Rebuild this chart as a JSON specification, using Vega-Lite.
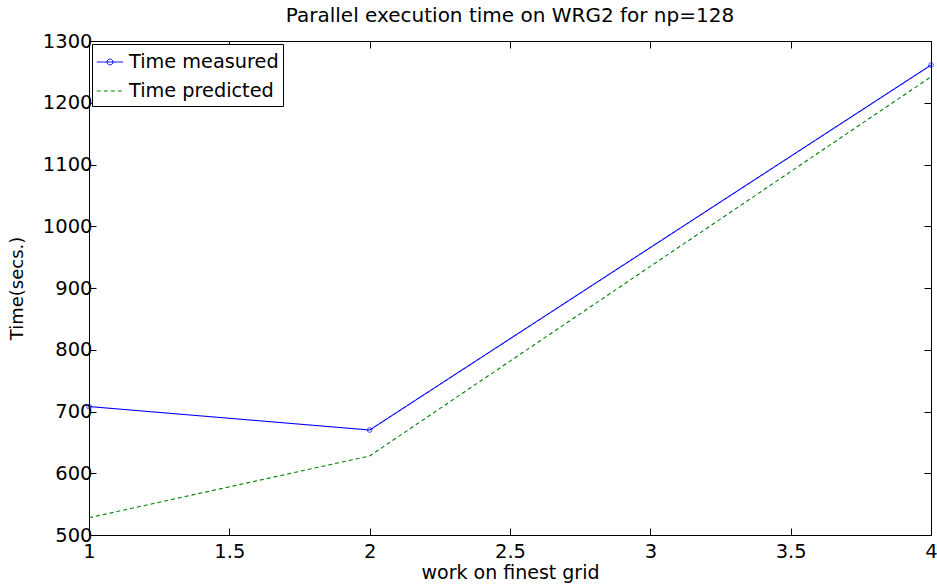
{
  "$schema": "https://vega.github.io/schema/vega-lite/v6.json",
  "width": 842,
  "height": 494,
  "autosize": {"type": "none"},
  "padding": {"left": 89, "top": 41, "right": 6, "bottom": 52},
  "background": "white",
  "title": {"text": "Parallel execution time on WRG2 for np=128", "font": "DejaVu Sans", "fontSize": 20, "fontWeight": "normal", "color": "black", "offset": 5},
  "config": {
    "view": {"stroke": "black", "strokeWidth": 1},
    "axis": {"labelFont": "DejaVu Sans", "titleFont": "DejaVu Sans", "labelFontSize": 19.5, "titleFontSize": 19, "titleFontWeight": "normal", "labelColor": "black", "titleColor": "black", "domainColor": "black", "tickColor": "black", "grid": false, "tickSize": -7, "domainWidth": 1}
  },
  "data": {"values": [
    {"x": 1, "t": 708, "series": "Time measured"},
    {"x": 2, "t": 670, "series": "Time measured"},
    {"x": 4, "t": 1261, "series": "Time measured"},
    {"x": 1, "t": 528, "series": "Time predicted"},
    {"x": 2, "t": 628, "series": "Time predicted"},
    {"x": 4, "t": 1242, "series": "Time predicted"}
  ]},
  "layer": [
    {
      "mark": {"type": "line", "strokeWidth": 1.1, "clip": true},
      "encoding": {
        "x": {"field": "x", "type": "quantitative", "scale": {"domain": [1, 4], "nice": false, "zero": false}, "axis": {"title": "work on finest grid", "format": "~g", "values": [1, 1.5, 2, 2.5, 3, 3.5, 4], "labelPadding": 14, "titlePadding": 3, "labelOverlap": false, "labelFlush": false}},
        "y": {"field": "t", "type": "quantitative", "scale": {"domain": [500, 1300], "nice": false, "zero": false}, "axis": {"title": "Time(secs.)", "titleFontSize": 18, "format": "d", "values": [500, 600, 700, 800, 900, 1000, 1100, 1200, 1300], "labelPadding": 4, "titlePadding": 16, "labelOverlap": false, "labelFlush": false}},
        "color": {"field": "series", "type": "nominal", "scale": {"domain": ["Time measured", "Time predicted"], "range": ["#0000ff", "#008000"]},
          "legend": {"title": null, "orient": "top-left", "offset": 3, "symbolType": "stroke", "symbolSize": 700, "symbolStrokeWidth": 1, "labelFont": "DejaVu Sans", "labelFontSize": 19.3, "labelColor": "black", "strokeColor": "black", "fillColor": "white", "padding": 4, "rowPadding": 4, "labelOffset": 5, "cornerRadius": 0,
            "encode": {"symbols": {"update": {"shape": {"signal": "datum.value === 'Time measured' ? 'M-1,0L1,0M0.22,0A0.22,0.22 0 1,1 -0.22,0A0.22,0.22 0 1,1 0.22,0' : 'M-1,0L1,0'"}}}}}},
        "strokeDash": {"field": "series", "type": "nominal", "scale": {"domain": ["Time measured", "Time predicted"], "range": [[1, 0], [4, 3]]}, "legend": null}
      }
    },
    {
      "transform": [{"filter": "datum.series == 'Time measured'"}],
      "mark": {"type": "point", "shape": "circle", "size": 22, "color": "#0000ff", "strokeWidth": 1, "filled": false, "clip": false},
      "encoding": {
        "x": {"field": "x", "type": "quantitative", "axis": null},
        "y": {"field": "t", "type": "quantitative", "axis": null}
      }
    },
    {
      "mark": {"type": "line", "opacity": 0},
      "encoding": {
        "x": {"field": "x", "type": "quantitative", "axis": {"orient": "top", "labels": false, "title": null, "domain": false, "values": [1, 1.5, 2, 2.5, 3, 3.5, 4]}},
        "y": {"field": "t", "type": "quantitative", "axis": {"orient": "right", "labels": false, "title": null, "domain": false, "values": [500, 600, 700, 800, 900, 1000, 1100, 1200, 1300]}}
      }
    }
  ],
  "resolve": {"axis": {"x": "independent", "y": "independent"}}
}
